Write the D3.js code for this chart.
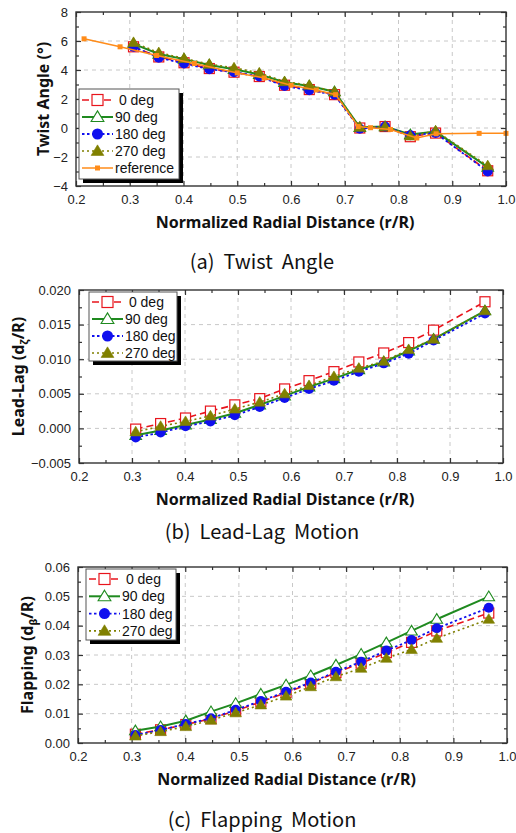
<!DOCTYPE html>
<html>
<head>
<meta charset="utf-8">
<script src="https://cdn.jsdelivr.net/npm/d3@7"></script>
<style>
  body { margin: 0; background: #fff; }
  svg { display: block; }
</style>
</head>
<body>
<svg id="chart"></svg>
<script>
// radial stations shared by the four azimuth series
var radial = [0.307, 0.354, 0.401, 0.448, 0.494, 0.541, 0.588, 0.634, 0.681, 0.728, 0.775, 0.822, 0.869, 0.966];

// (a) twist angle, deg
var twist0   = [5.6, 4.9, 4.5, 4.1, 3.85, 3.55, 2.95, 2.65, 2.3, 0.0, 0.1, -0.6, -0.35, -2.95];
var twist90  = [5.8, 5.1, 4.75, 4.35, 4.05, 3.7, 3.15, 2.9, 2.5, 0.05, 0.1, -0.45, -0.25, -2.7];
var twist180 = [5.6, 4.85, 4.45, 4.05, 3.85, 3.55, 2.9, 2.6, 2.3, -0.05, 0.1, -0.5, -0.35, -3.0];
var twist270 = [5.9, 5.2, 4.8, 4.4, 4.15, 3.8, 3.2, 2.95, 2.5, 0.05, 0.1, -0.55, -0.2, -2.6];
var refRadial = [0.215, 0.282, 0.35, 0.42, 0.5, 0.55, 0.6, 0.647, 0.683, 0.725, 0.748, 0.785, 0.834, 0.87, 0.95, 1.0];
var refTwist  = [6.15, 5.6, 5.0, 4.45, 3.8, 3.45, 2.95, 2.62, 2.3, 0.1, 0.02, -0.1, -0.69, -0.4, -0.37, -0.37];

// (b) lead-lag, d_zeta/R
var lag0   = [-0.0001, 0.0007, 0.0015, 0.0025, 0.0034, 0.0043, 0.0057, 0.0069, 0.0082, 0.0096, 0.0109, 0.0124, 0.0142, 0.0183];
var lag90  = [-0.0010, -0.0003, 0.0005, 0.0013, 0.0022, 0.0034, 0.0047, 0.0060, 0.0072, 0.0085, 0.0096, 0.0112, 0.0129, 0.0170];
var lag180 = [-0.0013, -0.0006, 0.0003, 0.0010, 0.0019, 0.0031, 0.0044, 0.0057, 0.0069, 0.0082, 0.0094, 0.0108, 0.0127, 0.0166];
var lag270 = [-0.0005, 0.0003, 0.0010, 0.0018, 0.0028, 0.0038, 0.0050, 0.0062, 0.0075, 0.0087, 0.0097, 0.0114, 0.0129, 0.0170];

// (c) flapping, d_beta/R
var flap0   = [0.0030, 0.0045, 0.0063, 0.0083, 0.0110, 0.0140, 0.0172, 0.0203, 0.0240, 0.0272, 0.0308, 0.0343, 0.0382, 0.0443];
var flap90  = [0.0042, 0.0056, 0.0076, 0.0107, 0.0135, 0.0167, 0.0198, 0.0230, 0.0266, 0.0303, 0.0342, 0.0382, 0.0422, 0.0499];
var flap180 = [0.0027, 0.0044, 0.0065, 0.0084, 0.0113, 0.0143, 0.0175, 0.0206, 0.0243, 0.0277, 0.0315, 0.0351, 0.0391, 0.0461];
var flap270 = [0.0024, 0.0039, 0.0056, 0.0078, 0.0103, 0.0130, 0.0160, 0.0192, 0.0226, 0.0255, 0.0289, 0.0319, 0.0357, 0.0422];

var seriesNames = ["0 deg", "90 deg", "180 deg", "270 deg"];
var xTicks = [0.2, 0.3, 0.4, 0.5, 0.6, 0.7, 0.8, 0.9, 1.0];
var twistTicks = [-4, -2, 0, 2, 4, 6, 8];
var lagTicks = [-0.005, 0, 0.005, 0.010, 0.015, 0.020];
var flapTicks = [0, 0.01, 0.02, 0.03, 0.04, 0.05, 0.06];

// look of each series
var styles = {
  "0 deg":     { color: "#e8141c", dash: "7,4", width: 1.6, shape: "square",   fill: "#fff" },
  "90 deg":    { color: "#1f8a1f", dash: null,  width: 2,   shape: "triangle", fill: "#fff" },
  "180 deg":   { color: "#1010ee", dash: "2.5,2.5", width: 1.8, shape: "circle", fill: "#1010ee" },
  "270 deg":   { color: "#808000", dash: "2,3", width: 1.6, shape: "triangle", fill: "#808000" },
  "reference": { color: "#ff8c1a", dash: null,  width: 1.5, shape: "smallsquare", fill: "#ff8c1a" }
};

var width = 516, height = 833;
var svg = d3.select("#chart").attr("width", width).attr("height", height);

var tickFont = "'Liberation Sans', Arial, sans-serif";
var titleFont = "'Noto Sans', 'Liberation Sans', sans-serif";

function marker(g, shape, x, y, st, size) {
  var s = size;
  if (shape === "square") {
    g.append("rect").attr("x", x - s / 2).attr("y", y - s / 2).attr("width", s).attr("height", s)
      .attr("fill", st.fill).attr("stroke", st.color).attr("stroke-width", 1.2);
  } else if (shape === "smallsquare") {
    g.append("rect").attr("x", x - 2.5).attr("y", y - 2.5).attr("width", 5).attr("height", 5)
      .attr("fill", st.fill);
  } else if (shape === "circle") {
    g.append("circle").attr("cx", x).attr("cy", y).attr("r", s / 2).attr("fill", st.fill);
  } else if (shape === "triangle") {
    var h = s * 0.9;
    g.append("path")
      .attr("d", "M" + x + "," + (y - h * 0.62) + "L" + (x + s * 0.58) + "," + (y + h * 0.45) + "L" + (x - s * 0.58) + "," + (y + h * 0.45) + "Z")
      .attr("fill", st.fill).attr("stroke", st.color).attr("stroke-width", st.fill === "#fff" ? 1.1 : 0.6);
  }
}

function drawPanel(p) {
  var x = d3.scaleLinear().domain([0.2, 1.0]).range([p.left, p.right]);
  var y = d3.scaleLinear().domain(p.yDomain).range([p.bottom, p.top]);
  var g = svg.append("g");

  // dashed grid
  var grid = g.append("g").attr("stroke", "#c8c8c8").attr("stroke-dasharray", "4,4").attr("stroke-width", 1);
  xTicks.slice(1, -1).forEach(function(t) {
    grid.append("line").attr("x1", x(t)).attr("x2", x(t)).attr("y1", p.top).attr("y2", p.bottom);
  });
  p.yTicks.slice(1, -1).forEach(function(t) {
    grid.append("line").attr("x1", p.left).attr("x2", p.right).attr("y1", y(t)).attr("y2", y(t));
  });

  // minor tick values
  var xMinor = d3.range(0.25, 1.0, 0.1);
  var yStep = p.yTicks[1] - p.yTicks[0];
  var yMinor = p.yTicks.slice(0, -1).map(function(t) { return t + yStep / 2; });

  function styleAxis(a) {
    a.select(".domain").remove();
    a.selectAll("line").attr("stroke", "#333").attr("stroke-width", 1.2);
    a.selectAll("text").attr("font-family", tickFont).attr("font-size", p.tickSize).attr("fill", "#222");
  }

  styleAxis(g.append("g").attr("transform", "translate(0," + p.bottom + ")")
    .call(d3.axisBottom(x).tickValues(xTicks).tickFormat(d3.format(".1f")).tickSizeInner(-5).tickPadding(9)));
  styleAxis(g.append("g").attr("transform", "translate(0," + p.bottom + ")")
    .call(d3.axisBottom(x).tickValues(xMinor).tickFormat("").tickSizeInner(-3)));
  styleAxis(g.append("g").attr("transform", "translate(0," + p.top + ")")
    .call(d3.axisTop(x).tickValues(xTicks).tickFormat("").tickSizeInner(-5)));
  styleAxis(g.append("g").attr("transform", "translate(0," + p.top + ")")
    .call(d3.axisTop(x).tickValues(xMinor).tickFormat("").tickSizeInner(-3)));
  styleAxis(g.append("g").attr("transform", "translate(" + p.left + ",0)")
    .call(d3.axisLeft(y).tickValues(p.yTicks).tickFormat(d3.format(p.yFormat)).tickSizeInner(-5).tickPadding(8)));
  styleAxis(g.append("g").attr("transform", "translate(" + p.left + ",0)")
    .call(d3.axisLeft(y).tickValues(yMinor).tickFormat("").tickSizeInner(-3)));
  styleAxis(g.append("g").attr("transform", "translate(" + p.right + ",0)")
    .call(d3.axisRight(y).tickValues(p.yTicks).tickFormat("").tickSizeInner(-5)));
  styleAxis(g.append("g").attr("transform", "translate(" + p.right + ",0)")
    .call(d3.axisRight(y).tickValues(yMinor).tickFormat("").tickSizeInner(-3)));

  // data
  var plot = g.append("g");
  var line = d3.line().x(function(d) { return x(d[0]); }).y(function(d) { return y(d[1]); });
  p.series.forEach(function(s) {
    var st = styles[s.name];
    var pts = s.xs.map(function(v, i) { return [v, s.ys[i]]; });
    plot.append("path").datum(pts).attr("d", line).attr("fill", "none")
      .attr("stroke", st.color).attr("stroke-width", st.width)
      .attr("stroke-dasharray", st.dash);
    pts.forEach(function(d) { marker(plot, st.shape, x(d[0]), y(d[1]), st, p.markerSize); });
  });

  // frame
  g.append("rect").attr("x", p.left).attr("y", p.top)
    .attr("width", p.right - p.left).attr("height", p.bottom - p.top)
    .attr("fill", "none").attr("stroke", "#333").attr("stroke-width", 1.4);

  // legend
  var lg = p.legend;
  var lb = g.append("g");
  lb.append("rect").attr("x", lg.x + 4).attr("y", lg.y + 4).attr("width", lg.w).attr("height", lg.h).attr("fill", "#000");
  lb.append("rect").attr("x", lg.x).attr("y", lg.y).attr("width", lg.w).attr("height", lg.h)
    .attr("fill", "#fff").attr("stroke", "#555").attr("stroke-width", 1);
  p.series.forEach(function(s, i) {
    var st = styles[s.name];
    var cy = lg.y + lg.first + i * lg.step;
    lb.append("line").attr("x1", lg.x + 3).attr("x2", lg.x + 34).attr("y1", cy).attr("y2", cy)
      .attr("stroke", st.color).attr("stroke-width", st.width).attr("stroke-dasharray", st.dash);
    marker(lb, st.shape, lg.x + 18.5, cy, st, lg.markerSize);
    lb.append("text").attr("x", lg.x + 36).attr("y", cy).attr("dy", "0.36em")
      .attr("font-family", tickFont).attr("font-size", 14).attr("fill", "#111")
      .text((s.name === "0 deg" ? "\u00a0" : "") + s.name);
  });

  // axis titles
  g.append("text").attr("x", (p.left + p.right) / 2 - 6).attr("y", p.bottom + 42)
    .attr("text-anchor", "middle").attr("font-family", titleFont).attr("font-weight", "bold")
    .attr("font-size", 16).attr("fill", "#111").text("Normalized Radial Distance (r/R)");

  var yt = g.append("text").attr("transform", "translate(" + p.yTitleX + "," + ((p.top + p.bottom) / 2) + ") rotate(-90)")
    .attr("text-anchor", "middle").attr("dy", "0.35em").attr("font-family", titleFont).attr("font-weight", "bold")
    .attr("font-size", 16).attr("fill", "#111");
  yt.append("tspan").text(p.yTitle[0]);
  if (p.yTitle.length > 1) {
    yt.append("tspan").attr("font-size", 11).attr("dy", "4").text(p.yTitle[1]);
    yt.append("tspan").attr("dy", "-4").text(p.yTitle[2]);
  }

  // caption
  svg.append("text").attr("x", 262).attr("y", p.captionY).attr("text-anchor", "middle")
    .attr("font-family", "'Noto Sans CJK KR', 'Noto Sans', sans-serif").attr("font-size", 20)
    .attr("fill", "#111").style("white-space", "pre").text(p.caption);
}

function seriesSet(a, b, c, d) {
  return [a, b, c, d].map(function(ys, i) { return { name: seriesNames[i], xs: radial, ys: ys }; });
}

var twistSeries = seriesSet(twist0, twist90, twist180, twist270);
twistSeries.push({ name: "reference", xs: refRadial, ys: refTwist });

drawPanel({
  left: 76, right: 506, top: 12, bottom: 186,
  yDomain: [-4, 8], yTicks: twistTicks, yFormat: "d", tickSize: 13,
  series: twistSeries, markerSize: 10,
  legend: { x: 79, y: 89, w: 100, h: 90, first: 11, step: 17, markerSize: 11 },
  yTitleX: 43, yTitle: ["Twist Angle (\u00b0)"],
  caption: "(a)  Twist  Angle", captionY: 269
});

drawPanel({
  left: 79, right: 503, top: 290, bottom: 463,
  yDomain: [-0.005, 0.020], yTicks: lagTicks, yFormat: ".3f", tickSize: 13,
  series: seriesSet(lag0, lag90, lag180, lag270), markerSize: 10,
  legend: { x: 89, y: 292, w: 88, h: 69, first: 10, step: 17, markerSize: 11 },
  yTitleX: 18, yTitle: ["Lead-Lag (d", "\u03b6", "/R)"],
  caption: "(b)  Lead-Lag  Motion", captionY: 539
});

drawPanel({
  left: 78, right: 507, top: 567, bottom: 743,
  yDomain: [0, 0.06], yTicks: flapTicks, yFormat: ".2f", tickSize: 13,
  series: seriesSet(flap0, flap90, flap180, flap270), markerSize: 10,
  legend: { x: 86, y: 569, w: 90, h: 71, first: 10, step: 17.3, markerSize: 11 },
  yTitleX: 27, yTitle: ["Flapping (d", "\u03b2", "/R)"],
  caption: "(c)  Flapping  Motion", captionY: 827
});
</script>
</body>
</html>
